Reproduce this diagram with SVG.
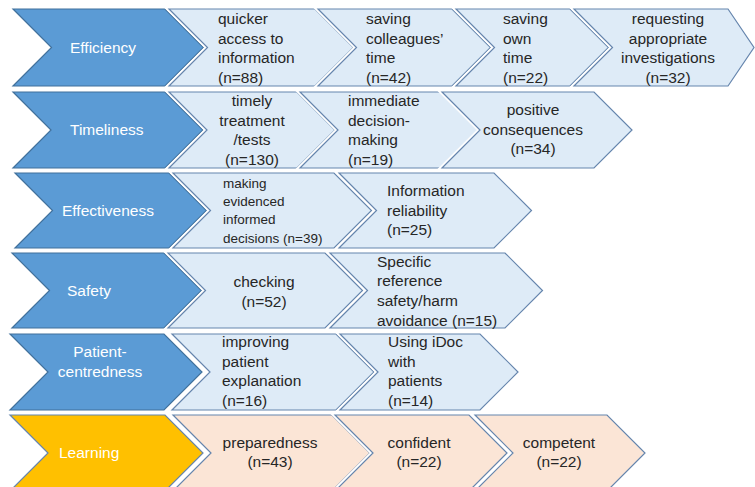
<svg xmlns="http://www.w3.org/2000/svg" width="755" height="487" viewBox="0 0 755 487">
<style>
.halo{fill:none;stroke:#ffffff;stroke-width:5;stroke-linejoin:miter}
.blue{fill:#5B9BD5;stroke:#41719C;stroke-width:1.2}
.lb{fill:#DEEBF7;stroke:#6585AD;stroke-width:1.2}
.pe{fill:#FBE5D6;stroke:#6585AD;stroke-width:1.2}
.or{fill:#FFC000;stroke:#6585AD;stroke-width:1.2}
text{font-family:"Liberation Sans",Arial,sans-serif;font-size:15.5px;fill:#262626}
.w{fill:#ffffff}
.s{font-size:13.5px}
.c{text-anchor:middle}
</style>
<rect width="755" height="487" fill="#ffffff"/>
<g id="connectors"/>

<!-- Row 1 -->
<g id="efficiency">
<path class="halo" d="M13,9 L165,9 L203.5,47.5 L165,86 L13,86 L51.5,47.5Z"/>
<path class="blue" d="M13,9 L165,9 L203.5,47.5 L165,86 L13,86 L51.5,47.5Z"/>
<text class="w" x="70" y="53">Efficiency</text>
</g>
<g id="quicker-access">
<path class="halo" d="M169,9 L315,9 L353.5,47.5 L315,86 L169,86 L207.5,47.5Z"/>
<path class="lb" d="M169,9 L315,9 L353.5,47.5 L315,86 L169,86 L207.5,47.5Z"/>
<text x="218" y="24">quicker</text>
<text x="218" y="43.5">access to</text>
<text x="218" y="63">information</text>
<text x="218" y="82.5">(n=88)</text>
</g>
<g id="saving-colleagues">
<path class="halo" d="M318,9 L452,9 L490.5,47.5 L452,86 L318,86 L356.5,47.5Z"/>
<path class="lb" d="M318,9 L452,9 L490.5,47.5 L452,86 L318,86 L356.5,47.5Z"/>
<text x="366" y="24">saving</text>
<text x="366" y="43.5">colleagues’</text>
<text x="366" y="63">time</text>
<text x="366" y="82.5">(n=42)</text>
</g>
<g id="saving-own">
<path class="halo" d="M456,9 L570,9 L608.5,47.5 L570,86 L456,86 L494.5,47.5Z"/>
<path class="lb" d="M456,9 L570,9 L608.5,47.5 L570,86 L456,86 L494.5,47.5Z"/>
<text x="503" y="24">saving</text>
<text x="503" y="43.5">own</text>
<text x="503" y="63">time</text>
<text x="503" y="82.5">(n=22)</text>
</g>
<g id="requesting">
<path class="halo" d="M574,9 L728,9 L754,47.5 L728,86 L574,86 L612.5,47.5Z"/>
<path class="lb" d="M574,9 L728,9 L754,47.5 L728,86 L574,86 L612.5,47.5Z"/>
<text class="c" x="668" y="24">requesting</text>
<text class="c" x="668" y="43.5">appropriate</text>
<text class="c" x="668" y="63">investigations</text>
<text class="c" x="668" y="82.5">(n=32)</text>
</g>

<!-- Row 2 -->
<g id="timeliness">
<path class="halo" d="M13,92 L165,92 L203,130 L165,168 L13,168 L51,130Z"/>
<path class="blue" d="M13,92 L165,92 L203,130 L165,168 L13,168 L51,130Z"/>
<text class="w" x="70" y="135">Timeliness</text>
</g>
<g id="timely-treatment">
<path class="halo" d="M169,92 L297,92 L335,130 L297,168 L169,168 L207,130Z"/>
<path class="lb" d="M169,92 L297,92 L335,130 L297,168 L169,168 L207,130Z"/>
<text class="c" x="252" y="106">timely</text>
<text class="c" x="252" y="125.5">treatment</text>
<text class="c" x="252" y="145">/tests</text>
<text class="c" x="252" y="164.5">(n=130)</text>
</g>
<g id="immediate-decision">
<path class="halo" d="M300,92 L440,92 L478,130 L440,168 L300,168 L338,130Z"/>
<path class="lb" d="M300,92 L440,92 L478,130 L440,168 L300,168 L338,130Z"/>
<text x="348" y="106">immediate</text>
<text x="348" y="125.5">decision-</text>
<text x="348" y="145">making</text>
<text x="348" y="164.5">(n=19)</text>
</g>
<g id="positive-consequences">
<path class="halo" d="M442,92 L594,92 L632,130 L594,168 L442,168 L480,130Z"/>
<path class="lb" d="M442,92 L594,92 L632,130 L594,168 L442,168 L480,130Z"/>
<text class="c" x="533" y="115">positive</text>
<text class="c" x="533" y="134.5">consequences</text>
<text class="c" x="533" y="154">(n=34)</text>
</g>

<!-- Row 3 -->
<g id="effectiveness">
<path class="halo" d="M15,173 L169,173 L206.5,210.5 L169,248 L15,248 L52.5,210.5Z"/>
<path class="blue" d="M15,173 L169,173 L206.5,210.5 L169,248 L15,248 L52.5,210.5Z"/>
<text class="w" x="62" y="216">Effectiveness</text>
</g>
<g id="evidenced-decisions">
<path class="halo" d="M173,173 L334,173 L371.5,210.5 L334,248 L173,248 L210.5,210.5Z"/>
<path class="lb" d="M173,173 L334,173 L371.5,210.5 L334,248 L173,248 L210.5,210.5Z"/>
<text class="s" x="223" y="188">making</text>
<text class="s" x="223" y="206">evidenced</text>
<text class="s" x="223" y="224">informed</text>
<text class="s" x="223" y="243">decisions (n=39)</text>
</g>
<g id="information-reliability">
<path class="halo" d="M339,173 L494,173 L531.5,210.5 L494,248 L339,248 L376.5,210.5Z"/>
<path class="lb" d="M339,173 L494,173 L531.5,210.5 L494,248 L339,248 L376.5,210.5Z"/>
<text x="387" y="196">Information</text>
<text x="387" y="215.5">reliability</text>
<text x="387" y="235">(n=25)</text>
</g>

<!-- Row 4 -->
<g id="safety">
<path class="halo" d="M12,253 L164,253 L201.5,290.5 L164,328 L12,328 L49.5,290.5Z"/>
<path class="blue" d="M12,253 L164,253 L201.5,290.5 L164,328 L12,328 L49.5,290.5Z"/>
<text class="w" x="67" y="296">Safety</text>
</g>
<g id="checking">
<path class="halo" d="M168,253 L325,253 L362.5,290.5 L325,328 L168,328 L205.5,290.5Z"/>
<path class="lb" d="M168,253 L325,253 L362.5,290.5 L325,328 L168,328 L205.5,290.5Z"/>
<text class="c" x="264" y="287">checking</text>
<text class="c" x="264" y="307">(n=52)</text>
</g>
<g id="safety-harm">
<path class="halo" d="M330,253 L505,253 L542.5,290.5 L505,328 L330,328 L367.5,290.5Z"/>
<path class="lb" d="M330,253 L505,253 L542.5,290.5 L505,328 L330,328 L367.5,290.5Z"/>
<text x="377" y="267">Specific</text>
<text x="377" y="286">reference</text>
<text x="377" y="305.5">safety/harm</text>
<text x="377" y="326">avoidance (n=15)</text>
</g>

<!-- Row 5 -->
<g id="patient-centredness">
<path class="halo" d="M10,334 L164,334 L202,372 L164,410 L10,410 L48,372Z"/>
<path class="blue" d="M10,334 L164,334 L202,372 L164,410 L10,410 L48,372Z"/>
<text class="w c" x="100" y="357">Patient-</text>
<text class="w c" x="100" y="377">centredness</text>
</g>
<g id="patient-explanation">
<path class="halo" d="M172,334 L336,334 L374,372 L336,410 L172,410 L210,372Z"/>
<path class="lb" d="M172,334 L336,334 L374,372 L336,410 L172,410 L210,372Z"/>
<text x="222" y="347">improving</text>
<text x="222" y="366.5">patient</text>
<text x="222" y="386">explanation</text>
<text x="222" y="405.5">(n=16)</text>
</g>
<g id="using-idoc">
<path class="halo" d="M340,334 L480,334 L518,372 L480,410 L340,410 L378,372Z"/>
<path class="lb" d="M340,334 L480,334 L518,372 L480,410 L340,410 L378,372Z"/>
<text x="388" y="347">Using iDoc</text>
<text x="388" y="366.5">with</text>
<text x="388" y="386">patients</text>
<text x="388" y="405.5">(n=14)</text>
</g>

<!-- Row 6 -->
<g id="learning">
<path class="halo" d="M10,415 L165,415 L203,453 L165,491 L10,491 L48,453Z"/>
<path class="or" d="M10,415 L165,415 L203,453 L165,491 L10,491 L48,453Z"/>
<text class="w" x="59" y="458">Learning</text>
</g>
<g id="preparedness">
<path class="halo" d="M173,415 L332,415 L370,453 L332,491 L173,491 L211,453Z"/>
<path class="pe" d="M173,415 L332,415 L370,453 L332,491 L173,491 L211,453Z"/>
<text class="c" x="270" y="448">preparedness</text>
<text class="c" x="270" y="467">(n=43)</text>
</g>
<g id="confident">
<path class="halo" d="M335,415 L469,415 L507,453 L469,491 L335,491 L373,453Z"/>
<path class="pe" d="M335,415 L469,415 L507,453 L469,491 L335,491 L373,453Z"/>
<text class="c" x="419" y="448">confident</text>
<text class="c" x="419" y="467">(n=22)</text>
</g>
<g id="competent">
<path class="halo" d="M475,415 L607,415 L645,453 L607,491 L475,491 L513,453Z"/>
<path class="pe" d="M475,415 L607,415 L645,453 L607,491 L475,491 L513,453Z"/>
<text class="c" x="559" y="448">competent</text>
<text class="c" x="559" y="467">(n=22)</text>
</g>
</svg>
